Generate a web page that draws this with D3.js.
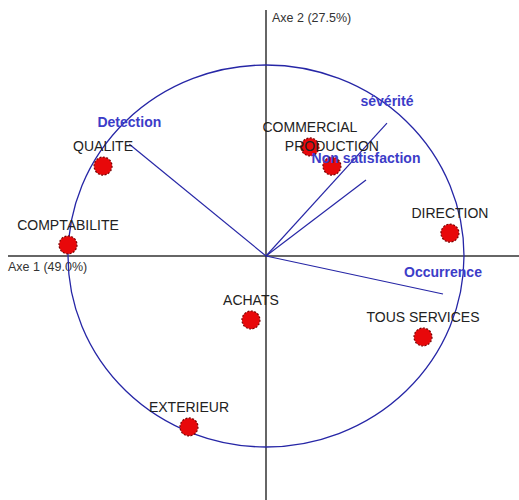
<!DOCTYPE html>
<html><head><meta charset="utf-8">
<script src="https://cdn.jsdelivr.net/npm/d3@7"></script>
<style>body{margin:0;background:#fff}svg{display:block}</style>
</head><body>
<svg id="c" width="519" height="500"></svg>
<script>
// Individuals (categories) and their coordinates on Axe 1 / Axe 2
const categories = ["QUALITE","COMPTABILITE","COMMERCIAL","PRODUCTION","DIRECTION","ACHATS","TOUS SERVICES","EXTERIEUR"];
const axe1 = [-0.823,-1.0,0.222,0.333,0.929,-0.076,0.793,-0.389];
const axe2 = [0.471,0.058,0.571,0.471,0.120,-0.335,-0.424,-0.895];
// Variables (correlation circle)
const variables = ["Detection","sévérité","Non satisfaction","Occurrence"];
const varAxe1 = [-0.69,0.611,0.505,0.894];
const varAxe2 = [0.585,0.696,0.398,-0.199];
const axisLabels = ["Axe 1 (49.0%)","Axe 2 (27.5%)"];

const svg = d3.select("#c");
const x = d3.scaleLinear().domain([-1,1]).range([68,464]);
const y = d3.scaleLinear().domain([-1,1]).range([447,65]);

// axes
svg.append("line").attr("x1",8).attr("x2",519).attr("y1",y(0)).attr("y2",y(0))
  .attr("stroke","#333").attr("stroke-width",1.5);
svg.append("line").attr("x1",x(0)).attr("x2",x(0)).attr("y1",10).attr("y2",500)
  .attr("stroke","#333").attr("stroke-width",1.5);
svg.append("text").attr("x",8).attr("y",y(0)+15).text(axisLabels[0])
  .attr("font-family","Liberation Sans, Arial, sans-serif").attr("font-size",12.5).attr("fill","#333");
svg.append("text").attr("x",x(0)+6).attr("y",22).text(axisLabels[1])
  .attr("font-family","Liberation Sans, Arial, sans-serif").attr("font-size",12.5).attr("fill","#333");

// circle
svg.append("ellipse").attr("cx",x(0)).attr("cy",y(0))
  .attr("rx",x(1)-x(0)).attr("ry",y(0)-y(1))
  .attr("fill","none").attr("stroke","#2626a6").attr("stroke-width",1.3);

// variable vectors
const vars = variables.map((v,i)=>({name:v,a:varAxe1[i],b:varAxe2[i]}));
svg.selectAll("line.v").data(vars).join("line").attr("class","v")
  .attr("x1",x(0)).attr("y1",y(0)).attr("x2",d=>x(d.a)).attr("y2",d=>y(d.b))
  .attr("stroke","#2626a6").attr("stroke-width",1.2);

// points
const pts = categories.map((c,i)=>({name:c,a:axe1[i],b:axe2[i]}));
svg.selectAll("circle.p").data(pts).join("circle").attr("class","p")
  .attr("cx",d=>x(d.a)).attr("cy",d=>y(d.b)).attr("r",9)
  .attr("fill","#e8080a").attr("stroke","#7a0000").attr("stroke-width",1.2)
  .attr("stroke-dasharray","2,1.5");

// point labels
svg.selectAll("text.p").data(pts).join("text").attr("class","p")
  .attr("x",d=>x(d.a)).attr("y",d=>y(d.b)-15).attr("text-anchor","middle")
  .attr("font-family","Liberation Sans, Arial, sans-serif").attr("font-size",14)
  .attr("fill","#222").text(d=>d.name);

// variable labels
svg.selectAll("text.v").data(vars).join("text").attr("class","v")
  .attr("x",d=>x(d.a)).attr("y",d=>y(d.b)-17).attr("text-anchor","middle")
  .attr("font-family","Liberation Sans, Arial, sans-serif").attr("font-size",14)
  .attr("font-weight","bold").attr("fill","#3c3cc8").text(d=>d.name);
</script>
</body></html>
